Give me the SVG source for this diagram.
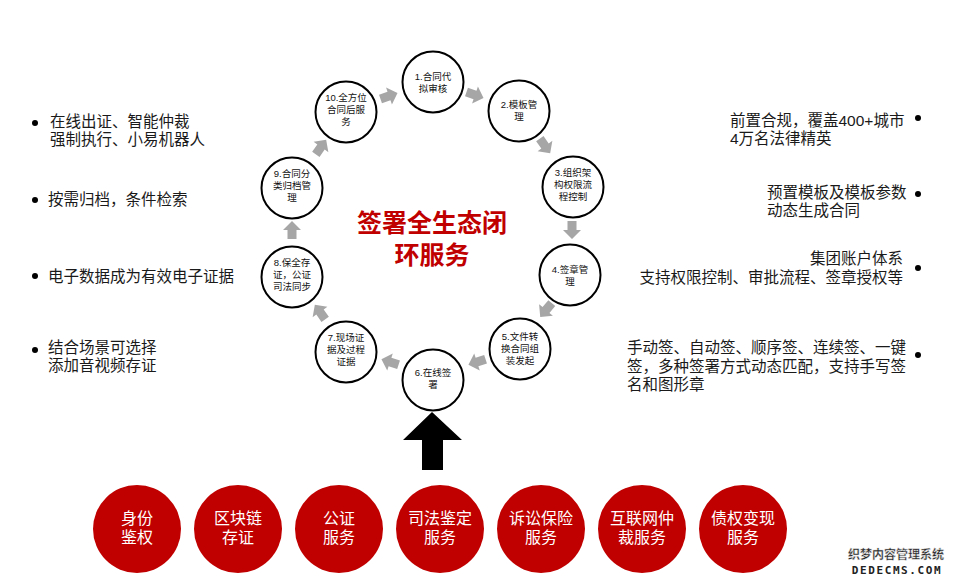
<svg xmlns="http://www.w3.org/2000/svg" xmlns:xlink="http://www.w3.org/1999/xlink" width="958" height="583" viewBox="0 0 958 583">
<style>
text{font-family:"Liberation Sans","Noto Sans CJK SC",sans-serif;}
.ring{fill:#fff;stroke:#000;stroke-width:2;}
.ct{font-size:9.5px;fill:#111;text-anchor:middle;}
.bt{font-size:15.5px;fill:#1a1a1a;}
.dot{fill:#000;}
.red{fill:#c00000;}
.rt{font-size:16px;fill:#fff;text-anchor:middle;}
.title{font-size:25px;font-weight:bold;fill:#c00000;text-anchor:middle;}
.ga{fill:#a6a6a6;}
</style>
<defs>
<path id="ga" d="M-9,-4.5 L0,-4.5 L0,-9 L9,0 L0,9 L0,4.5 L-9,4.5 Z"/>
</defs>
<rect width="958" height="583" fill="#fff"/>

<g id="connectors">
<use xlink:href="#ga" class="ga" transform="translate(389,96) rotate(-19)"/>
<use xlink:href="#ga" class="ga" transform="translate(475,95) rotate(19)"/>
<use xlink:href="#ga" class="ga" transform="translate(545,146) rotate(55)"/>
<use xlink:href="#ga" class="ga" transform="translate(572,230) rotate(90)"/>
<use xlink:href="#ga" class="ga" transform="translate(546,310) rotate(130)"/>
<use xlink:href="#ga" class="ga" transform="translate(477,362) rotate(162)"/>
<use xlink:href="#ga" class="ga" transform="translate(390,362) rotate(198)"/>
<use xlink:href="#ga" class="ga" transform="translate(320,312) rotate(235)"/>
<use xlink:href="#ga" class="ga" transform="translate(292,230) rotate(270)"/>
<use xlink:href="#ga" class="ga" transform="translate(321,147) rotate(305)"/>
<path id="bigArrow" d="M432,412 L462,440 L443,440 L443,470 L422,470 L422,440 L403,440 Z" fill="#000"/>
</g>

<g id="n1"><circle class="ring" cx="433" cy="82" r="30.5"/><text class="ct" x="433" y="80">1.合同代<tspan x="433" dy="12">拟审核</tspan></text></g>
<g id="n2"><circle class="ring" cx="519" cy="111" r="30.5"/><text class="ct" x="519" y="108">2.模板管<tspan x="519" dy="12">理</tspan></text></g>
<g id="n3"><circle class="ring" cx="573" cy="187" r="30.5"/><text class="ct" x="573" y="176">3.组织架<tspan x="573" dy="12">构权限流</tspan><tspan x="573" dy="12">程控制</tspan></text></g>
<g id="n4"><circle class="ring" cx="570" cy="275" r="30.5"/><text class="ct" x="570" y="273">4.签章管<tspan x="570" dy="12">理</tspan></text></g>
<g id="n5"><circle class="ring" cx="520" cy="349" r="30.5"/><text class="ct" x="520" y="340">5.文件转<tspan x="520" dy="12">换合同组</tspan><tspan x="520" dy="12">装发起</tspan></text></g>
<g id="n6"><circle class="ring" cx="433" cy="380" r="30.5"/><text class="ct" x="433" y="376">6.在线签<tspan x="433" dy="12">署</tspan></text></g>
<g id="n7"><circle class="ring" cx="346" cy="352" r="30.5"/><text class="ct" x="346" y="341">7.现场证<tspan x="346" dy="12">据及过程</tspan><tspan x="346" dy="12">证据</tspan></text></g>
<g id="n8"><circle class="ring" cx="292" cy="277" r="30.5"/><text class="ct" x="292" y="266">8.保全存<tspan x="292" dy="12">证，公证</tspan><tspan x="292" dy="12">司法同步</tspan></text></g>
<g id="n9"><circle class="ring" cx="292" cy="188" r="30.5"/><text class="ct" x="292" y="177">9.合同分<tspan x="292" dy="12">类归档管</tspan><tspan x="292" dy="12">理</tspan></text></g>
<g id="n10"><circle class="ring" cx="346" cy="112" r="30.5"/><text class="ct" x="346" y="101">10.全方位<tspan x="346" dy="12">合同后服</tspan><tspan x="346" dy="12">务</tspan></text></g>

<g id="title"><text class="title" x="432" y="232">签署全生态闭<tspan x="432" dy="32">环服务</tspan></text></g>

<g id="left-notes">
<circle class="dot" cx="35" cy="123" r="3"/>
<text class="bt" x="50" y="126.5">在线出证、智能仲裁<tspan x="50" dy="18">强制执行、小易机器人</tspan></text>
<circle class="dot" cx="35" cy="200" r="3"/>
<text class="bt" x="48" y="204.5">按需归档，条件检索</text>
<circle class="dot" cx="35" cy="276" r="3"/>
<text class="bt" x="48" y="281.5">电子数据成为有效电子证据</text>
<circle class="dot" cx="35" cy="350" r="3"/>
<text class="bt" x="48" y="352.5">结合场景可选择<tspan x="48" dy="18">添加音视频存证</tspan></text>
</g>

<g id="right-notes">
<circle class="dot" cx="918" cy="118" r="3"/>
<text class="bt" x="730" y="125.5">前置合规，覆盖400+城市<tspan x="730" dy="18">4万名法律精英</tspan></text>
<circle class="dot" cx="918" cy="194" r="3"/>
<text class="bt" x="767" y="197.5">预置模板及模板参数<tspan x="767" dy="18">动态生成合同</tspan></text>
<circle class="dot" cx="918" cy="268" r="3"/>
<text class="bt" x="903" y="263.5" text-anchor="end">集团账户体系<tspan x="903" dy="19">支持权限控制、审批流程、签章授权等</tspan></text>
<circle class="dot" cx="918" cy="355" r="3"/>
<text class="bt" x="627" y="352.5">手动签、自动签、顺序签、连续签、一键<tspan x="627" dy="19">签，多种签署方式动态匹配，支持手写签</tspan><tspan x="627" dy="18">名和图形章</tspan></text>
</g>

<g id="b1"><circle class="red" cx="137" cy="529" r="44"/><text class="rt" x="137" y="524">身份<tspan x="137" dy="19">鉴权</tspan></text></g>
<g id="b2"><circle class="red" cx="238" cy="529" r="44"/><text class="rt" x="238" y="524">区块链<tspan x="238" dy="19">存证</tspan></text></g>
<g id="b3"><circle class="red" cx="339" cy="529" r="44"/><text class="rt" x="339" y="524">公证<tspan x="339" dy="19">服务</tspan></text></g>
<g id="b4"><circle class="red" cx="440" cy="529" r="44"/><text class="rt" x="440" y="524">司法鉴定<tspan x="440" dy="19">服务</tspan></text></g>
<g id="b5"><circle class="red" cx="541" cy="529" r="44"/><text class="rt" x="541" y="524">诉讼保险<tspan x="541" dy="19">服务</tspan></text></g>
<g id="b6"><circle class="red" cx="642" cy="529" r="44"/><text class="rt" x="642" y="524">互联网仲<tspan x="642" dy="19">裁服务</tspan></text></g>
<g id="b7"><circle class="red" cx="743" cy="529" r="44"/><text class="rt" x="743" y="524">债权变现<tspan x="743" dy="19">服务</tspan></text></g>

<g id="watermark">
<text x="896" y="559" font-size="12" font-weight="bold" fill="#222" stroke="#ddd" stroke-width="0.4" text-anchor="middle">织梦内容管理系统<tspan x="897" dy="15" font-size="11" letter-spacing="1.6" style="font-family:'DejaVu Sans Mono',monospace" stroke="none">DEDECMS.COM</tspan></text>
</g>
</svg>
